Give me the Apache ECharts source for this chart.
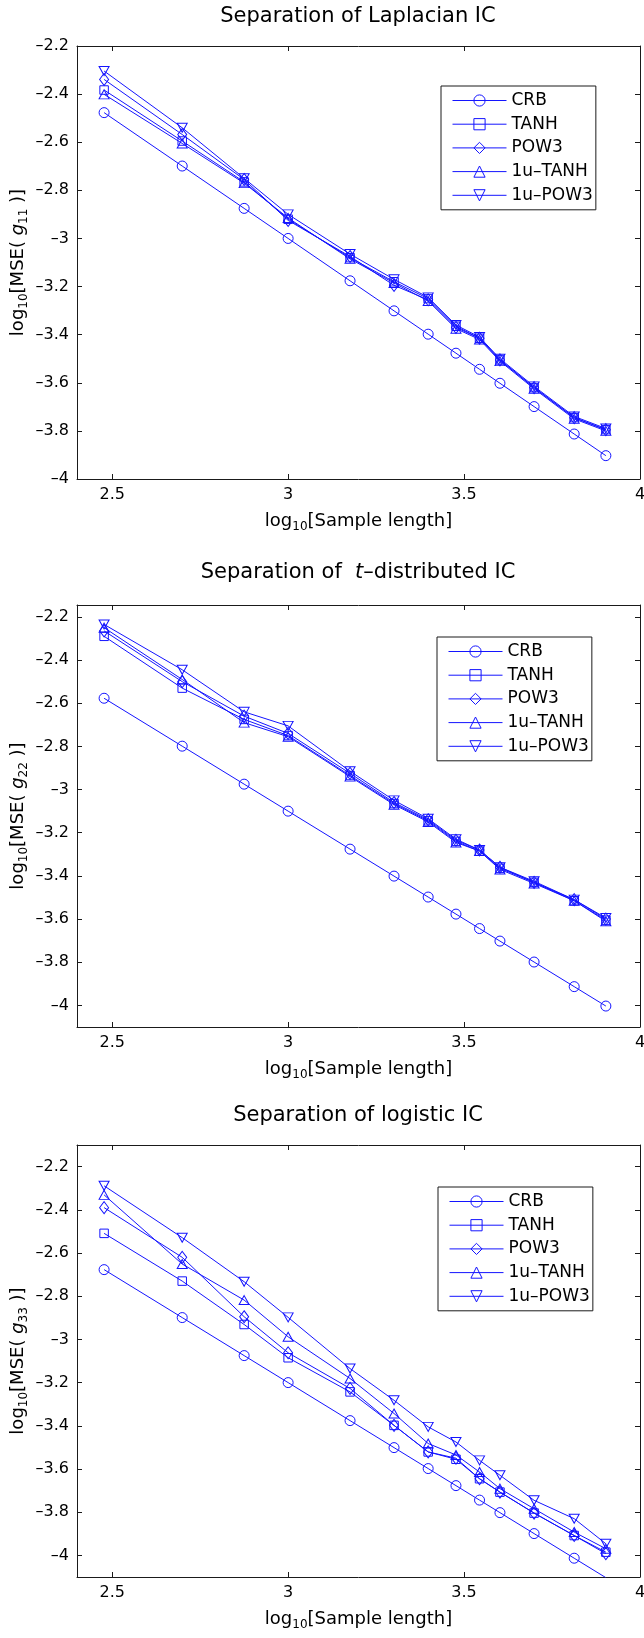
<!DOCTYPE html>
<html><head><meta charset="utf-8">
<script src="https://cdn.jsdelivr.net/npm/echarts@6/dist/echarts.min.js"></script>
<style>html,body{margin:0;padding:0;background:#fff}#c{width:644px;height:1638px}</style>
</head><body><div id="c"></div>
<script>
// ---------- data ----------
const seriesNames = ['CRB', 'TANH', 'POW3', '1u\u2013TANH', '1u\u2013POW3'];
// log10 of sample lengths 300 ... 8000
const xVals = [2.477, 2.699, 2.875, 3.0, 3.176, 3.301, 3.398, 3.477, 3.544, 3.602, 3.699, 3.813, 3.903];
const xTicks = [2.5, 3, 3.5, 4];
const yTicks = [-4, -3.8, -3.6, -3.4, -3.2, -3, -2.8, -2.6, -2.4, -2.2];

// Plot 1: Laplacian IC
const crb1   = [-2.477, -2.699, -2.875, -3.0, -3.176, -3.301, -3.398, -3.477, -3.544, -3.602, -3.699, -3.813, -3.903];
const tanh1  = [-2.383, -2.595, -2.765, -2.92, -3.08, -3.18, -3.25, -3.365, -3.415, -3.505, -3.62, -3.745, -3.795];
const pow31  = [-2.339, -2.568, -2.755, -2.925, -3.075, -3.195, -3.255, -3.37, -3.415, -3.505, -3.62, -3.745, -3.795];
const uTanh1 = [-2.401, -2.605, -2.77, -2.915, -3.085, -3.185, -3.26, -3.375, -3.42, -3.51, -3.625, -3.75, -3.80];
const uPow31 = [-2.304, -2.54, -2.75, -2.90, -3.065, -3.17, -3.245, -3.36, -3.41, -3.50, -3.615, -3.74, -3.79];

// Plot 2: t-distributed IC
const crb2   = [-2.577, -2.799, -2.975, -3.1, -3.276, -3.401, -3.498, -3.577, -3.644, -3.702, -3.799, -3.913, -4.003];
const tanh2  = [-2.29, -2.53, -2.675, -2.75, -2.935, -3.065, -3.145, -3.24, -3.285, -3.365, -3.43, -3.515, -3.605];
const pow32  = [-2.265, -2.50, -2.66, -2.74, -2.925, -3.06, -3.14, -3.235, -3.28, -3.36, -3.43, -3.51, -3.60];
const uTanh2 = [-2.25, -2.49, -2.69, -2.755, -2.94, -3.07, -3.15, -3.245, -3.285, -3.37, -3.435, -3.515, -3.61];
const uPow32 = [-2.235, -2.445, -2.64, -2.705, -2.915, -3.05, -3.135, -3.23, -3.28, -3.36, -3.425, -3.51, -3.595];

// Plot 3: logistic IC
const crb3   = [-2.677, -2.899, -3.075, -3.2, -3.376, -3.501, -3.598, -3.677, -3.744, -3.802, -3.899, -4.013, -4.103];
const tanh3  = [-2.509, -2.73, -2.931, -3.085, -3.243, -3.398, -3.521, -3.555, -3.645, -3.707, -3.804, -3.908, -3.985];
const pow33  = [-2.39, -2.62, -2.895, -3.062, -3.227, -3.398, -3.521, -3.55, -3.645, -3.707, -3.804, -3.908, -3.992];
const uTanh3 = [-2.331, -2.651, -2.818, -2.988, -3.181, -3.343, -3.482, -3.535, -3.614, -3.691, -3.784, -3.892, -3.969];
const uPow33 = [-2.289, -2.529, -2.733, -2.898, -3.135, -3.282, -3.405, -3.475, -3.56, -3.629, -3.745, -3.83, -3.946];

const plots = [
  { title: '{a|Separation of Laplacian IC}', yName: '{a|log}{b|10}{a|[MSE( }{i|g}{b|11}{a| )]}', yMin: -4, yMax: -2.2,
    series: [crb1, tanh1, pow31, uTanh1, uPow31] },
  { title: '{a|Separation of  }{i|t}{a|\u2013distributed IC}', yName: '{a|log}{b|10}{a|[MSE( }{i|g}{b|22}{a| )]}', yMin: -4.1, yMax: -2.145,
    series: [crb2, tanh2, pow32, uTanh2, uPow32] },
  { title: '{a|Separation of logistic IC}', yName: '{a|log}{b|10}{a|[MSE( }{i|g}{b|33}{a| )]}', yMin: -4.1, yMax: -2.1,
    series: [crb3, tanh3, pow33, uTanh3, uPow33] }
];

// ---------- style / layout ----------
const FONT = '"DejaVu Sans", Verdana, sans-serif';
const BLUE = '#1414ff';
const AX = '#1a1a1a';
const gridBoxes = [ {top: 46, height: 433}, {top: 605, height: 422}, {top: 1145, height: 432} ];
const titleTops = [6, 562, 1105];
const legendTops = [86, 637, 1187];
const legendLefts = [441, 437, 438];
const symbols = [
  {symbol: 'circle', size: 10, rotate: 0},
  {symbol: 'rect', size: 8.5, rotate: 0},
  {symbol: 'diamond', size: [9, 12], rotate: 0},
  {symbol: 'triangle', size: [10, 9], rotate: 0},
  {symbol: 'triangle', size: [10, 9], rotate: 180}
];

const rich = {
  a: {fontSize: 18, fontFamily: FONT, color: '#000', lineHeight: 21, verticalAlign: 'top'},
  i: {fontSize: 18, fontFamily: FONT, color: '#000', fontStyle: 'italic', lineHeight: 21, verticalAlign: 'top'},
  b: {fontSize: 12, fontFamily: FONT, color: '#000', lineHeight: 13, verticalAlign: 'bottom', padding: [12, 0, 0, 0]}
};
const titleRich = {
  a: {fontSize: 21, fontFamily: FONT, color: '#000'},
  i: {fontSize: 21, fontFamily: FONT, color: '#000', fontStyle: 'italic'}
};
function fmtY(v) { v = Math.round(v * 10) / 10; return v < 0 ? '\u2013' + String(-v) : String(v); }

const option = {
  animation: false,
  backgroundColor: '#fff',
  title: [], grid: [], xAxis: [], yAxis: [], legend: [], series: []
};

plots.forEach((p, i) => {
  const g = gridBoxes[i];
  option.grid.push({left: 77, right: 4, top: g.top, height: g.height, outerBoundsMode: 'none', containLabel: false});
  option.title.push({
    text: p.title, left: 358, top: titleTops[i], textAlign: 'center', padding: 0,
    textStyle: {rich: titleRich, fontSize: 21, fontFamily: FONT, fontWeight: 'normal', color: '#000'}
  });
  const lineStyle = {color: AX, width: 1};
  option.xAxis.push({
    gridIndex: i, type: 'value', min: 2.4, max: 4, position: 'bottom',
    axisLine: {show: true, onZero: false, lineStyle},
    axisTick: {show: true, inside: true, length: 5, customValues: xTicks, lineStyle},
    axisLabel: {show: true, customValues: xTicks, margin: 8, fontSize: 16, fontFamily: FONT, color: '#000', formatter: v => String(v)},
    splitLine: {show: false},
    name: '{a|log}{b|10}{a|[Sample length]}', nameLocation: 'middle', nameGap: 33, nameMoveOverlap: false,
    nameTextStyle: {rich: rich}
  });
  option.xAxis.push({
    gridIndex: i, type: 'value', min: 2.4, max: 4, position: 'top',
    axisLine: {show: true, onZero: false, lineStyle},
    axisTick: {show: true, inside: true, length: 5, customValues: xTicks, lineStyle},
    axisLabel: {show: false, customValues: xTicks},
    splitLine: {show: false}
  });
  option.yAxis.push({
    gridIndex: i, type: 'value', min: p.yMin, max: p.yMax, position: 'left',
    axisLine: {show: true, onZero: false, lineStyle},
    axisTick: {show: true, inside: true, length: 5, customValues: yTicks, lineStyle},
    axisLabel: {show: true, customValues: yTicks, margin: 8, fontSize: 16, fontFamily: FONT, color: '#000', formatter: fmtY},
    splitLine: {show: false},
    name: p.yName, nameLocation: 'middle', nameRotate: 90, nameGap: 47, nameMoveOverlap: false,
    nameTextStyle: {rich: rich}
  });
  option.yAxis.push({
    gridIndex: i, type: 'value', min: p.yMin, max: p.yMax, position: 'right',
    axisLine: {show: true, onZero: false, lineStyle},
    axisTick: {show: true, inside: true, length: 5, customValues: yTicks, lineStyle},
    axisLabel: {show: false, customValues: yTicks},
    splitLine: {show: false}
  });
  option.legend.push({
    data: seriesNames, orient: 'vertical', left: legendLefts[i], top: legendTops[i],
    itemWidth: 54, itemHeight: 14, itemGap: 6.7, padding: [6, 3, 6, 11],
    borderColor: '#1a1a1a', borderWidth: 1, backgroundColor: '#fff', selectedMode: false,
    itemStyle: {borderWidth: 1}, lineStyle: {width: 1},
    textStyle: {fontSize: 17, fontFamily: FONT, color: '#000', lineHeight: 17}
  });
  p.series.forEach((vals, k) => {
    const s = symbols[k];
    option.series.push({
      type: 'line', name: seriesNames[k], xAxisIndex: 2 * i, yAxisIndex: 2 * i,
      data: xVals.map((x, j) => [x, vals[j]]),
      symbol: s.symbol, symbolSize: s.size, symbolRotate: s.rotate, showSymbol: true, showAllSymbol: true,
      clip: true, smooth: false,
      lineStyle: {color: BLUE, width: 1},
      itemStyle: {color: 'rgba(0,0,0,0)', borderColor: BLUE, borderWidth: 1},
      emphasis: {disabled: true}, silent: true, z: 2 + k
    });
  });
});

const chart = echarts.init(document.getElementById('c'), null, {renderer: 'canvas'});
chart.setOption(option);
</script></body></html>
